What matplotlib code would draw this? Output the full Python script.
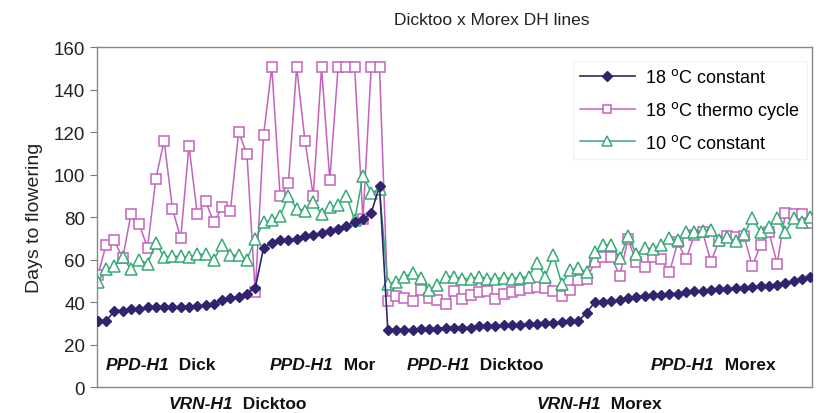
import numpy as np
import matplotlib
matplotlib.use("Agg")
import matplotlib.pyplot as plt

plt.rcParams['font.family'] = ['Liberation Sans', 'DejaVu Sans']

title = "Dicktoo x Morex DH lines"
y_label = "Days to flowering"
series_names = [r"18 $^{\rm o}$C constant", r"18 $^{\rm o}$C thermo cycle", r"10 $^{\rm o}$C constant"]

# days to flowering per DH line, 4 genotype groups (20, 15, 24, 28 lines)
const18 = [31, 31, 36, 36, 36.5, 36.5, 37.5, 37.5, 37.5, 37.5, 37.5, 37.5, 38, 38.5, 39, 41, 42, 42.5, 44, 46.5,
           65.5, 68, 69, 69, 69.5, 71, 71.5, 72.5, 73.5, 74.5, 76, 77.5, 79, 82, 94.5,
           27, 27, 27, 27, 27.5, 27.5, 27.5, 28, 28, 28, 28, 28.5, 28.5, 28.5, 29, 29, 29, 29.5, 29.5, 30, 30, 30.5, 31, 31,
           35, 40, 40, 40.5, 41, 42, 42.5, 43, 43.5, 43.5, 44, 44, 44.5, 45, 45.3, 45.6, 46, 46.3, 46.5, 46.6,
           46.9, 47.4, 47.7, 48.2, 48.9, 50, 51, 52]
thermo18 = [52.5, 67, 69, 60.5, 81.5, 76.5, 65.5, 98, 116, 84, 70, 113.5, 81.5, 87.5, 77.5, 84.5, 83, 120, 109.5, 44.5,
            118.5, 150.5, 90, 96, 150.5, 116, 90, 150.5, 97.5, 150.5, 150.5, 150.5, 79, 150.5, 150.5,
            40.5, 43, 42, 40.5, 45.5, 42, 41, 39, 45, 41.5, 43.5, 44.5, 45, 41.5, 44, 44.5, 45.5, 46.5, 47, 46.5, 45, 43, 45.5, 50.5,
            51, 58.7, 61, 61, 52.4, 69.6, 58.7, 56.3, 61, 60.2, 54, 68.1, 60.2, 71.5, 73, 59, 68.9, 71.2, 70.8, 71,
            57, 67, 73, 58, 82, 81.4, 81.4, 77]
const10 = [49.5, 55.5, 57, 61, 55.5, 60, 58, 68, 61, 61.5, 61.5, 61, 62.5, 62.5, 60, 67, 62, 62, 60, 69.5,
           77.5, 78.5, 80.5, 90, 84, 83, 87, 81.5, 84.5, 85.5, 90, 78.5, 99.5, 91.5, 93,
           48.5, 49.5, 52, 53.5, 51.5, 45.5, 48, 52, 52, 51, 51, 52, 51, 51, 51.5, 51, 51.5, 52, 58.5, 52, 62, 48.5, 55, 56,
           54, 63.5, 67, 67, 60.5, 71, 62.5, 65.5, 65, 67, 70, 69, 72.8, 72.8, 73.6, 74, 69.3, 70.4, 68.5, 72,
           79.5, 72.8, 75.2, 79.5, 72.8, 79.5, 77.5, 80]

ppd_genes = ["PPD-H1", "PPD-H1", "PPD-H1", "PPD-H1"]
ppd_alleles = ["Dick", "Mor", "Dicktoo", "Morex"]
vrn_genes = ["VRN-H1", "VRN-H1"]
vrn_alleles = ["Dicktoo", "Morex"]

c_navy = "#33236f"
c_pink = "#c264bb"
c_green = "#38aa78"

fig = plt.figure(figsize=(8.18, 4.14), dpi=100)
ax = fig.add_axes([0.1186, 0.0628, 0.874, 0.821])

x = np.arange(len(const18))
ax.plot(x, const18, color=c_navy, marker="D", markersize=5.5, lw=1.2, label=series_names[0], zorder=3)
ax.plot(x, thermo18, color=c_pink, marker="s", markersize=7, markerfacecolor="white",
        markeredgewidth=1.1, lw=1.1, label=series_names[1], zorder=2)
ax.plot(x, const10, color=c_green, marker="^", markersize=8, markerfacecolor="white",
        markeredgewidth=1.1, lw=1.1, label=series_names[2], zorder=2.5)

ax.set_xlim(-0.1, len(x) - 0.8)
ax.set_ylim(0, 160)
ax.set_yticks(np.arange(0, 161, 20))
ax.set_xticks([])
ax.tick_params(axis="y", labelsize=13.5, length=5, color="#777777", labelcolor="#222222")
for s in ax.spines.values():
    s.set_color("#888888")
    s.set_linewidth(1.0)
ax.set_ylabel(y_label, fontsize=14, color="#222222", labelpad=8)

fig.text(0.601, 0.950, title, ha="center", va="center", fontsize=12.5, color="#222222")

leg = ax.legend(loc="upper right", bbox_to_anchor=(1.006, 0.985), fontsize=13, frameon=True,
                handlelength=3.0, labelspacing=0.7, borderpad=0.4, handletextpad=0.6,
                fancybox=False)
leg.get_frame().set_edgecolor("#eeeeee")
leg.get_frame().set_linewidth(0.8)
for h in leg.legend_handles:
    h.set_markersize(h.get_markersize() * 0.85)


def label_pair(xf, yf, gene, allele, trans):
    t = ax.text(xf, yf, gene, transform=trans, fontsize=12.5, fontstyle="italic",
                fontweight="bold", ha="left", va="center", color="#111111", clip_on=False)
    ax.annotate("  " + allele, xy=(1, 0.5), xycoords=t, fontsize=12.5, fontweight="bold",
                ha="left", va="center", color="#111111", annotation_clip=False)


ppd_pos = [0.012, 0.242, 0.433, 0.775]
for px, g, a in zip(ppd_pos, ppd_genes, ppd_alleles):
    label_pair(px, 0.065, g, a, ax.transAxes)

vrn_pos = [0.100, 0.615]
for px, g, a in zip(vrn_pos, vrn_genes, vrn_alleles):
    label_pair(px, -0.05, g, a, ax.transAxes)

fig.savefig("out.png", dpi=100)
